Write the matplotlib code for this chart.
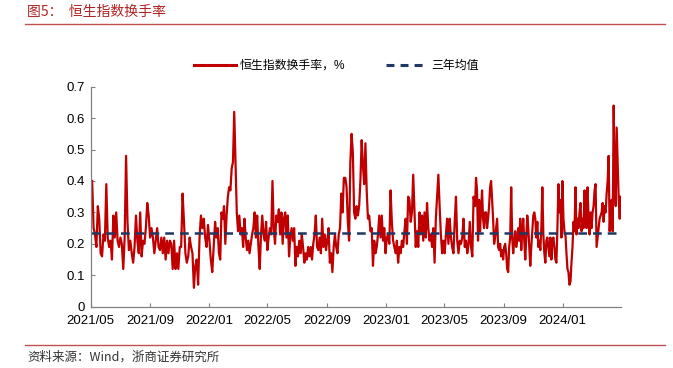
import pandas as pd
import matplotlib
matplotlib.use("Agg")
import matplotlib.pyplot as plt
import matplotlib.dates as mdates
from matplotlib.lines import Line2D

plt.rcParams['font.family'] = ['Liberation Sans', 'Noto Sans CJK SC', 'DejaVu Sans']

TITLE = "图5：  恒生指数换手率"
SOURCE = "资料来源：Wind，浙商证券研究所"
SERIES_NAME = "恒生指数换手率，%"
MEAN_NAME = "三年均值"
THREE_YEAR_MEAN = 0.233

# daily turnover, in four stretches
seg1_dates = ("2021-05-04", "2022-01-10")
seg1 = [0.40, 0.25, 0.23, 0.19, 0.32, 0.28, 0.17, 0.16, 0.23, 0.21, 0.39, 0.22, 0.19, 0.21, 0.15,
        0.29, 0.22, 0.30, 0.21, 0.19, 0.22, 0.20, 0.12, 0.22, 0.48, 0.27, 0.18, 0.21, 0.17, 0.14,
        0.19, 0.29, 0.21, 0.17, 0.30, 0.16, 0.21, 0.20, 0.25, 0.33, 0.29, 0.22, 0.25, 0.22, 0.17,
        0.21, 0.25, 0.19, 0.18, 0.22, 0.17, 0.22, 0.15, 0.21, 0.17, 0.21, 0.20, 0.12, 0.21, 0.12,
        0.17, 0.12, 0.19, 0.19, 0.36, 0.27, 0.17, 0.14, 0.16, 0.22, 0.19, 0.17, 0.06, 0.13, 0.15,
        0.07, 0.22, 0.29, 0.25, 0.28, 0.22, 0.19, 0.26, 0.21, 0.15, 0.11, 0.19]

seg2_dates = ("2022-01-13", "2022-10-06")
seg2 = [0.27, 0.22, 0.25, 0.17, 0.15, 0.30, 0.28, 0.32, 0.20, 0.29, 0.35, 0.38, 0.37, 0.44, 0.46,
        0.62, 0.46, 0.30, 0.24, 0.29, 0.23, 0.25, 0.19, 0.28, 0.22, 0.18, 0.21, 0.17, 0.20, 0.23,
        0.25, 0.30, 0.22, 0.29, 0.19, 0.12, 0.23, 0.29, 0.23, 0.21, 0.27, 0.18, 0.22, 0.25, 0.23,
        0.40, 0.25, 0.20, 0.29, 0.27, 0.31, 0.23, 0.30, 0.20, 0.28, 0.30, 0.22, 0.29, 0.16, 0.22,
        0.25, 0.21, 0.25, 0.13, 0.19, 0.16, 0.21, 0.17, 0.23, 0.19, 0.14, 0.17, 0.15, 0.19, 0.16,
        0.19, 0.15, 0.20, 0.23, 0.29, 0.19, 0.18, 0.22, 0.17, 0.28, 0.19, 0.23, 0.18, 0.21, 0.25,
        0.14, 0.17, 0.11, 0.19, 0.23, 0.19, 0.17, 0.23, 0.25, 0.36, 0.30, 0.41]

seg3_dates = ("2022-10-09", "2023-07-01")
seg3 = [0.41, 0.38, 0.27, 0.21, 0.46, 0.55, 0.49, 0.30, 0.28, 0.32, 0.29, 0.32, 0.40, 0.53, 0.45,
        0.39, 0.52, 0.37, 0.28, 0.29, 0.24, 0.25, 0.13, 0.21, 0.17, 0.19, 0.23, 0.29, 0.22, 0.29,
        0.21, 0.25, 0.17, 0.22, 0.23, 0.20, 0.37, 0.27, 0.21, 0.19, 0.17, 0.21, 0.14, 0.19, 0.17,
        0.21, 0.19, 0.24, 0.28, 0.20, 0.35, 0.34, 0.27, 0.30, 0.42, 0.30, 0.19, 0.24, 0.19, 0.30,
        0.23, 0.29, 0.21, 0.30, 0.22, 0.33, 0.25, 0.21, 0.23, 0.19, 0.25, 0.14, 0.28, 0.35, 0.42,
        0.32, 0.23, 0.17, 0.21, 0.17, 0.23, 0.28, 0.20, 0.28, 0.22, 0.19, 0.17, 0.27, 0.35, 0.21,
        0.17, 0.21, 0.20, 0.22, 0.28, 0.19, 0.21, 0.17, 0.20, 0.27, 0.19, 0.16, 0.35]

seg4_dates = ("2023-07-04", "2024-04-30")
seg4 = [0.32, 0.41, 0.37, 0.21, 0.34, 0.24, 0.31, 0.37, 0.28, 0.25, 0.30, 0.30, 0.25, 0.28, 0.32,
        0.38, 0.40, 0.34, 0.28, 0.20, 0.22, 0.25, 0.28, 0.19, 0.18, 0.20, 0.16, 0.18, 0.15, 0.19,
        0.20, 0.17, 0.12, 0.11, 0.19, 0.22, 0.38, 0.22, 0.17, 0.21, 0.24, 0.19, 0.21, 0.25, 0.21,
        0.28, 0.18, 0.24, 0.28, 0.21, 0.15, 0.22, 0.29, 0.25, 0.19, 0.13, 0.19, 0.24, 0.29, 0.30,
        0.28, 0.22, 0.27, 0.19, 0.21, 0.18, 0.25, 0.38, 0.23, 0.17, 0.14, 0.21, 0.22, 0.19, 0.16,
        0.22, 0.15, 0.21, 0.22, 0.19, 0.15, 0.14, 0.25, 0.39, 0.30, 0.34, 0.22, 0.40, 0.28, 0.24,
        0.23, 0.17, 0.12, 0.11, 0.07, 0.08, 0.14, 0.19, 0.27, 0.24, 0.38, 0.23, 0.28, 0.25, 0.30,
        0.33, 0.24, 0.28, 0.25, 0.37, 0.28, 0.25, 0.38, 0.28, 0.23, 0.30, 0.25, 0.30, 0.32, 0.37,
        0.39, 0.19, 0.22, 0.25, 0.28, 0.29, 0.30, 0.33, 0.27, 0.32, 0.30, 0.36, 0.40, 0.48, 0.24,
        0.32, 0.34, 0.24, 0.64, 0.42, 0.32, 0.57, 0.46, 0.34, 0.28, 0.35]

x_start, x_end = "2021-05-01", "2024-04-30"
y_ticks = [0, 0.1, 0.2, 0.3, 0.4, 0.5, 0.6, 0.7]
y_tick_labels = ["0", "0.1", "0.2", "0.3", "0.4", "0.5", "0.6", "0.7"]

RED = "#C00000"
NAVY = "#1F3864"

parts = []
for (d0, d1), vals in [(seg1_dates, seg1), (seg2_dates, seg2), (seg3_dates, seg3), (seg4_dates, seg4)]:
    parts.append(pd.Series(vals, index=pd.date_range(d0, d1, periods=len(vals))))
turnover = pd.concat(parts)

fig = plt.figure(figsize=(6.73, 3.68), dpi=100)
ax = fig.add_axes([0.1348, 0.1666, 0.7875, 0.5978])

ax.plot(turnover.index, turnover.values, color=RED, lw=1.6, solid_joinstyle="round")
ax.plot([pd.Timestamp(x_start), pd.Timestamp(x_end)], [THREE_YEAR_MEAN, THREE_YEAR_MEAN],
        color=NAVY, lw=1.8, dashes=(3.5, 2.4))

ax.set_xlim(pd.Timestamp(x_start), pd.Timestamp(x_end))
ax.set_ylim(0, 0.7)
ax.set_yticks(y_ticks)
ax.set_yticklabels(y_tick_labels)
ax.xaxis.set_major_locator(mdates.MonthLocator(bymonth=[1, 5, 9]))
ax.xaxis.set_major_formatter(mdates.DateFormatter("%Y/%m"))
ax.tick_params(axis="both", direction="in", length=3, color="#808080", labelsize=9.5,
               labelcolor="black")
ax.tick_params(axis="x", pad=6)
ax.tick_params(axis="y", pad=4)
for s in ["top", "right"]:
    ax.spines[s].set_visible(False)
for s in ["left", "bottom"]:
    ax.spines[s].set_color("#808080")
    ax.spines[s].set_linewidth(0.9)

handles = [Line2D([], [], color=RED, lw=2.2),
           Line2D([], [], color=NAVY, lw=2.2, dashes=(2.6, 2.0))]
fig.legend(handles, [SERIES_NAME, MEAN_NAME], loc="center", bbox_to_anchor=(0.500, 0.821),
           ncol=2, frameon=False, fontsize=8.6, handlelength=3.5, handletextpad=0.3,
           columnspacing=3.4)

# header and footer
fig.text(0.040, 0.967, TITLE, color="#B22222", fontsize=10, va="center", ha="left",
         family=["Noto Sans CJK SC", "DejaVu Sans"])
fig.add_artist(Line2D([0.037, 0.988], [0.934, 0.934], color="#C0504D", lw=1.0))
fig.add_artist(Line2D([0.037, 0.988], [0.063, 0.063], color="#C0504D", lw=1.0))
fig.text(0.040, 0.030, SOURCE, color="#333333", fontsize=9, va="center", ha="left",
         family=["Noto Sans CJK SC", "DejaVu Sans"])

fig.savefig("out.png", dpi=100)
